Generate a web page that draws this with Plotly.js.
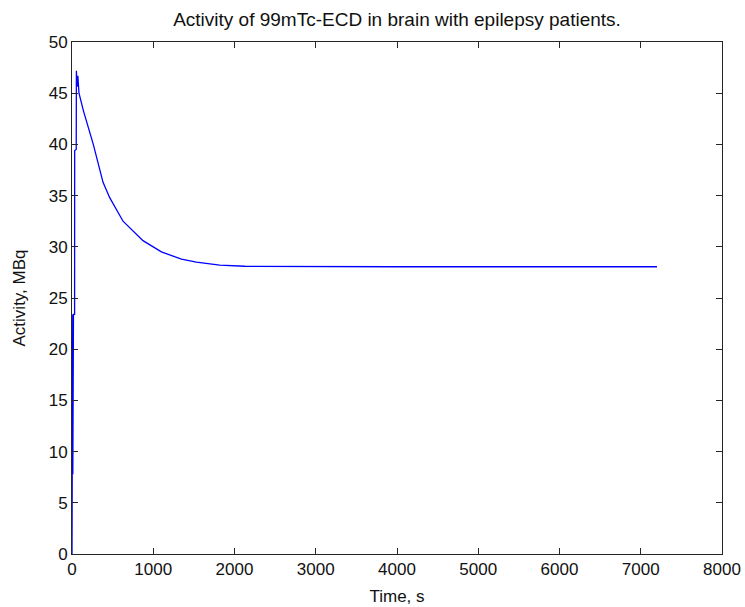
<!DOCTYPE html>
<html>
<head>
<meta charset="utf-8">
<script src="https://cdn.plot.ly/plotly-3.0.1.min.js"></script>
<style>
  html, body { margin: 0; padding: 0; background: #ffffff; }
  #chart { width: 745px; height: 607px; }
</style>
</head>
<body>
<div id="chart"></div>
<script>
// Time samples (s)
const timeSeconds = [
  0, 1, 2, 3, 4, 5, 6, 7, 8, 9, 10, 11, 12, 13, 14, 15, 16, 17, 18,
  32, 33, 52, 54, 62, 72, 86, 140, 262, 382, 464, 628, 874, 1100,
  1347, 1531, 1654, 1818, 2126, 3000, 4000, 5000, 6000, 7200
];
// Activity (MBq)
const activityMBq = [
  0, 23.4, 7.8, 23.2, 8.0, 23.4, 7.9, 23.3, 8.1, 23.4, 7.8, 23.3, 8.0, 23.4, 8.2, 23.3, 7.9, 23.4, 23.4,
  23.4, 39.4, 39.5, 47.2, 45.6, 46.7, 45.0, 43.3, 40.0, 36.3, 34.8, 32.5, 30.6, 29.5,
  28.8, 28.5, 28.4, 28.22, 28.1, 28.06, 28.05, 28.05, 28.05, 28.05
];
const xTicks = [0, 1000, 2000, 3000, 4000, 5000, 6000, 7000, 8000];
const yTicks = [0, 5, 10, 15, 20, 25, 30, 35, 40, 45, 50];

const chartTitle = "Activity of 99mTc-ECD in brain with epilepsy patients.";
const xTitle = "Time, s";
const yTitle = "Activity, MBq";

const fontFamily = '"Liberation Sans", Arial, sans-serif';

const axisCommon = {
  showgrid: false,
  zeroline: false,
  showline: true,
  linecolor: '#262626',
  linewidth: 1,
  mirror: 'ticks',
  ticks: 'inside',
  ticklen: 6,
  tickwidth: 1,
  tickcolor: '#262626',
  tickfont: { family: fontFamily, size: 17, color: '#111111' }
};

const trace = {
  x: timeSeconds,
  y: activityMBq,
  type: 'scatter',
  mode: 'lines',
  line: { color: '#0000ff', width: 1.3 },
  hoverinfo: 'skip'
};

const layout = {
  width: 745,
  height: 607,
  margin: { l: 72, r: 23, t: 42, b: 53, pad: 0 },
  paper_bgcolor: '#ffffff',
  plot_bgcolor: '#ffffff',
  showlegend: false,
  font: { family: fontFamily, size: 17, color: '#111111' },
  title: {
    text: chartTitle,
    font: { family: fontFamily, size: 19, color: '#111111' },
    x: 0.5, xref: 'paper', xanchor: 'center',
    y: 1 - 19 / 607, yref: 'container', yanchor: 'middle'
  },
  xaxis: Object.assign({}, axisCommon, {
    range: [0, 8000],
    tickmode: 'array',
    tickvals: xTicks,
    ticktext: xTicks.map(String),
    title: { text: xTitle, font: { family: fontFamily, size: 17, color: '#111111' }, standoff: 11 }
  }),
  yaxis: Object.assign({}, axisCommon, {
    range: [0, 50],
    tickmode: 'array',
    tickvals: yTicks,
    ticktext: yTicks.map(String),
    title: { text: yTitle, font: { family: fontFamily, size: 17, color: '#111111' }, standoff: 18 }
  })
};

Plotly.newPlot('chart', [trace], layout, { staticPlot: true, displayModeBar: false });
</script>
</body>
</html>
